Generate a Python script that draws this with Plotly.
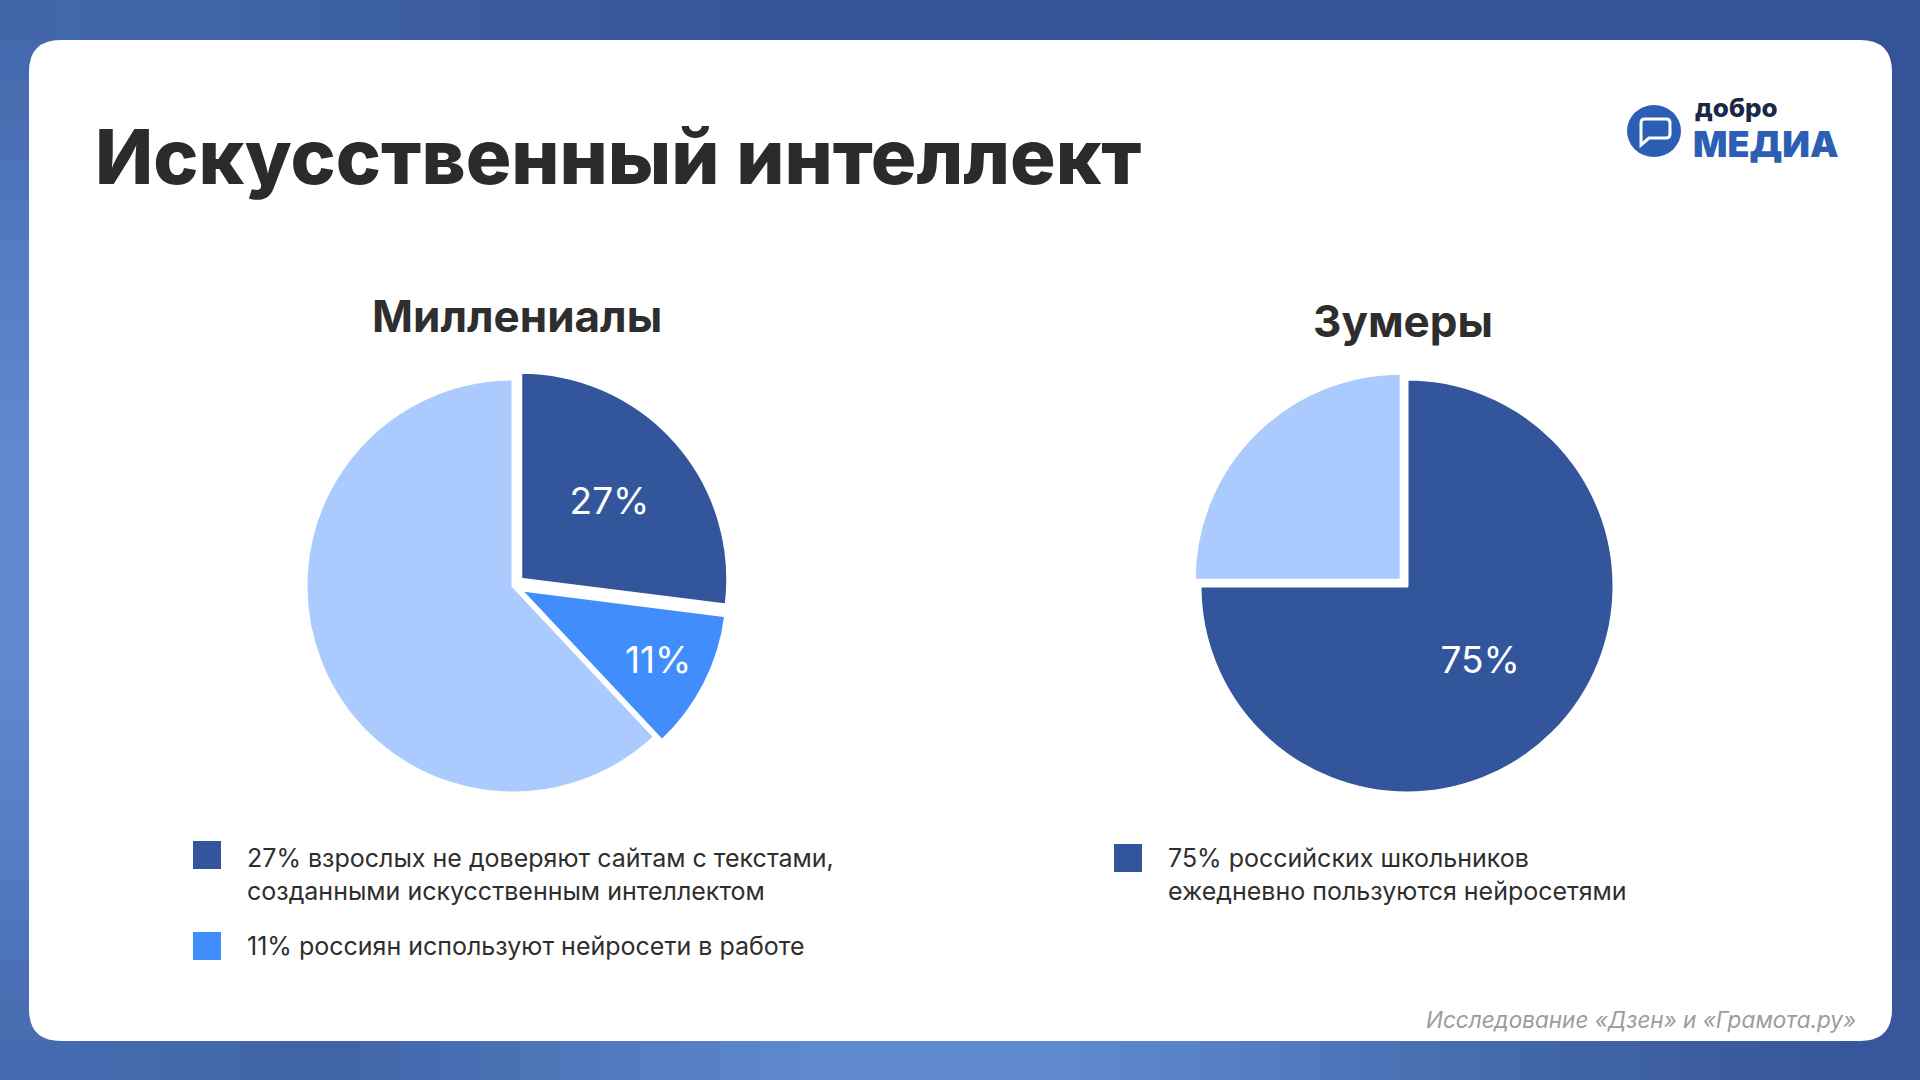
import math
import plotly.graph_objects as go

W, H = 1920, 1080

# ---------------- data ----------------
title_text = "Искусственный интеллект"
source_text = "Исследование «Дзен» и «Грамота.ру»"

mill_title = "Миллениалы"
mill_labels = ["Не доверяют сайтам с текстами ИИ", "Используют нейросети в работе", "Остальные"]
mill_values = [27, 11, 62]
mill_text = ["27%", "11%", ""]
mill_colors = ["#33559c", "#418dfc", "#abcbfe"]
mill_pull = [0.05, 0.04, 0]
mill_legend = [
    "27% взрослых не доверяют сайтам с текстами,<br>созданными искусственным интеллектом",
    "11% россиян используют нейросети в работе",
]

zoom_title = "Зумеры"
zoom_labels = ["Ежедневно пользуются нейросетями", "Остальные"]
zoom_values = [75, 25]
zoom_text = ["75%", ""]
zoom_colors = ["#33559c", "#abcbfe"]
zoom_pull = [0, 0.04]
zoom_legend = ["75% российских школьников<br>ежедневно пользуются нейросетями"]

# ---------------- helpers ----------------
def X(px):
    return px / W

def Y(py):
    return 1 - py / H

def mix(c1, c2, t):
    t = max(0.0, min(1.0, t))
    return "rgb(%d,%d,%d)" % tuple(round(a + (b - a) * t) for a, b in zip(c1, c2))

DARK = (52, 83, 152)
LIGHT = (94, 137, 205)

def bg_color(x, y):
    g1 = math.exp(-((x - 0) ** 2 + (y - 560) ** 2) / (520 ** 2))
    g2 = math.exp(-((x - 950) ** 2 + (y - 1080) ** 2) / (560 ** 2))
    return mix(DARK, LIGHT, max(g1, g2) * 1.05)

shapes = []
# base background
shapes.append(dict(type="rect", xref="paper", yref="paper", x0=0, x1=1, y0=0, y1=1,
                   fillcolor=mix(DARK, LIGHT, 0.2), line_width=0, layer="below"))
step = 40
# top & bottom bands
for i in range(0, W, step):
    for (ya, yb) in [(0, 60), (1020, 1080)]:
        shapes.append(dict(type="rect", xref="paper", yref="paper",
                           x0=X(i), x1=X(i + step + 1), y0=Y(yb), y1=Y(ya),
                           fillcolor=bg_color(i + step / 2, (ya + yb) / 2), line_width=0, layer="below"))
# left & right bands
for j in range(0, H, step):
    for (xa, xb) in [(0, 60), (1860, 1920)]:
        shapes.append(dict(type="rect", xref="paper", yref="paper",
                           x0=X(xa), x1=X(xb), y0=Y(j + step + 1), y1=Y(j),
                           fillcolor=bg_color((xa + xb) / 2, j + step / 2), line_width=0, layer="below"))

# white rounded card
cx0, cy0, cx1, cy1, rr = 29, 40, 1892, 1041, 32
def P(x, y):
    return "%.5f,%.5f" % (X(x), Y(y))
card_path = (
    "M " + P(cx0 + rr, cy0) + " L " + P(cx1 - rr, cy0) + " Q " + P(cx1, cy0) + " " + P(cx1, cy0 + rr) +
    " L " + P(cx1, cy1 - rr) + " Q " + P(cx1, cy1) + " " + P(cx1 - rr, cy1) +
    " L " + P(cx0 + rr, cy1) + " Q " + P(cx0, cy1) + " " + P(cx0, cy1 - rr) +
    " L " + P(cx0, cy0 + rr) + " Q " + P(cx0, cy0) + " " + P(cx0 + rr, cy0) + " Z"
)
shapes.append(dict(type="path", xref="paper", yref="paper", path=card_path,
                   fillcolor="white", line_width=0, layer="below"))

# logo icon
BRAND = "#2c5fb3"
shapes.append(dict(type="circle", xref="paper", yref="paper", x0=X(1627), x1=X(1681), y0=Y(157), y1=Y(105),
                   fillcolor=BRAND, line_width=0, layer="below"))
bubble = ("M " + P(1645, 119) + " L " + P(1666, 119) + " Q " + P(1670, 119) + " " + P(1670, 123) +
          " L " + P(1670, 134) + " Q " + P(1670, 138) + " " + P(1666, 138) +
          " L " + P(1649, 138) + " L " + P(1641, 145) + " L " + P(1641, 123) +
          " Q " + P(1641, 119) + " " + P(1645, 119) + " Z")
shapes.append(dict(type="path", xref="paper", yref="paper", path=bubble,
                   fillcolor=BRAND, line=dict(color="white", width=3), layer="below"))

# ---------------- pies ----------------
def domain(cx, cy, r, pulls):
    half = r * (1 + max(pulls))
    return dict(x=[X(cx - half), X(cx + half)], y=[Y(cy + half), Y(cy - half)])

fig = go.Figure()
fig.add_trace(go.Pie(
    labels=mill_labels, values=mill_values, text=mill_text, textinfo="text",
    sort=False, direction="clockwise", rotation=0, pull=mill_pull,
    marker=dict(colors=mill_colors, line=dict(color="white", width=3)),
    textposition="inside", insidetextorientation="horizontal",
    insidetextfont=dict(family="Inter", size=37, color="white"),
    domain=domain(513, 586, 207, mill_pull), showlegend=False, hoverinfo="label+percent",
))
fig.add_trace(go.Pie(
    labels=zoom_labels, values=zoom_values, text=zoom_text, textinfo="text",
    sort=False, direction="clockwise", rotation=0, pull=zoom_pull,
    marker=dict(colors=zoom_colors, line=dict(color="white", width=3)),
    textposition="inside", insidetextorientation="horizontal",
    insidetextfont=dict(family="Inter", size=37, color="white"),
    domain=domain(1407, 586, 207, zoom_pull), showlegend=False, hoverinfo="label+percent",
))

# ---------------- legend squares ----------------
def square(x, y, color):
    shapes.append(dict(type="rect", xref="paper", yref="paper", x0=X(x), x1=X(x + 28),
                       y0=Y(y + 28), y1=Y(y), fillcolor=color, line_width=0, layer="below"))

square(193, 841, mill_colors[0])
square(193, 932, mill_colors[1])
square(1114, 844, zoom_colors[0])

# ---------------- annotations ----------------
TEXT = "#2e2e2e"
ann = []
ann.append(dict(text=title_text, x=X(93), y=Y(156), xanchor="left", yanchor="middle",
                font=dict(family="Inter", size=76, color="#2b2b2b", weight=800)))
ann.append(dict(text=mill_title, x=X(517), y=Y(316), xanchor="center", yanchor="middle",
                font=dict(family="Inter", size=44, color=TEXT, weight=700)))
ann.append(dict(text=zoom_title, x=X(1403), y=Y(321), xanchor="center", yanchor="middle",
                font=dict(family="Inter", size=44, color=TEXT, weight=700)))
ann.append(dict(text=mill_legend[0], x=X(245), y=Y(874), xanchor="left", yanchor="middle", align="left",
                font=dict(family="Inter", size=25, color=TEXT)))
ann.append(dict(text=mill_legend[1], x=X(245), y=Y(946), xanchor="left", yanchor="middle", align="left",
                font=dict(family="Inter", size=25, color=TEXT)))
ann.append(dict(text=zoom_legend[0], x=X(1166), y=Y(874), xanchor="left", yanchor="middle", align="left",
                font=dict(family="Inter", size=25, color=TEXT)))
ann.append(dict(text="<i>" + source_text + "</i>", x=X(1858), y=Y(1019), xanchor="right", yanchor="middle",
                font=dict(family="Inter", size=22.5, color="#9c9c9c")))
ann.append(dict(text="добро", x=X(1693), y=Y(107), xanchor="left", yanchor="middle",
                font=dict(family="Inter", size=26, color="#1c2748", weight=800)))
ann.append(dict(text="МЕДИА", x=X(1691), y=Y(144), xanchor="left", yanchor="middle",
                font=dict(family="Inter", size=36, color=BRAND, weight=900)))
for a in ann:
    a.update(xref="paper", yref="paper", showarrow=False)

fig.update_layout(
    width=W, height=H, margin=dict(l=0, r=0, t=0, b=0),
    paper_bgcolor="white", plot_bgcolor="white",
    shapes=shapes, annotations=ann,
    font=dict(family="Inter"),
)

fig.write_html("out.html", config={"displayModeBar": False},
               post_script="document.body.style.margin='0';document.body.style.overflow='hidden';")
